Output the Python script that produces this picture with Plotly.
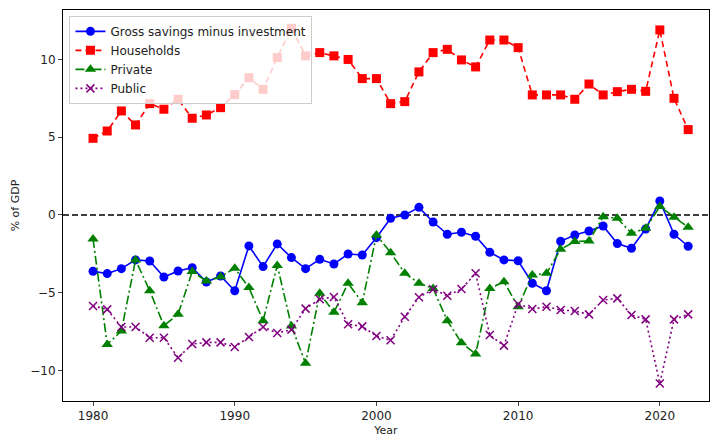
import plotly.graph_objects as go

years = list(range(1980, 2023))

gross = [-3.62, -3.77, -3.45, -2.89, -2.96, -3.99, -3.60, -3.39, -4.31, -3.92,
         -4.87, -1.99, -3.32, -1.86, -2.74, -3.45, -2.85, -3.15, -2.51, -2.57,
         -1.46, -0.21, 0.00, 0.49, -0.45, -1.24, -1.11, -1.37, -2.40, -2.89,
         -2.94, -4.39, -4.87, -1.69, -1.29, -1.03, -0.71, -1.84, -2.14, -0.90,
         0.90, -1.24, -2.01]

households = [4.93, 5.40, 6.69, 5.79, 7.16, 6.80, 7.44, 6.22, 6.43, 6.90,
              7.74, 8.83, 8.08, 10.12, 12.00, 10.23, 10.44, 10.23, 10.00, 8.77,
              8.77, 7.16, 7.29, 9.20, 10.44, 10.65, 9.97, 9.52, 11.25, 11.25,
              10.76, 7.72, 7.72, 7.72, 7.44, 8.42, 7.72, 7.93, 8.08, 7.95,
              11.90, 7.50, 5.49]

private = [-1.54, -8.32, -7.46, -2.89, -4.87, -7.12, -6.39, -3.64, -4.24, -3.97,
           -3.43, -4.67, -6.80, -3.24, -7.14, -9.54, -5.04, -6.26, -4.39, -5.64,
           -1.29, -2.42, -3.75, -4.39, -4.72, -6.80, -8.21, -8.94, -4.72, -4.29,
           -5.90, -3.86, -3.75, -2.21, -1.71, -1.67, -0.11, -0.21, -1.18, -0.86,
           0.54, -0.15, -0.79]

public = [-5.85, -6.07, -7.20, -7.20, -7.89, -7.89, -9.18, -8.30, -8.19, -8.19,
          -8.49, -7.85, -7.20, -7.59, -7.37, -6.02, -5.42, -5.27, -7.03, -7.16,
          -7.78, -8.06, -6.54, -5.29, -4.78, -5.19, -4.76, -3.75, -7.72, -8.40,
          -5.72, -6.05, -5.90, -6.11, -6.17, -6.39, -5.47, -5.36, -6.43, -6.71,
          -10.83, -6.71, -6.39]

x_ticks = [1980, 1990, 2000, 2010, 2020]
y_ticks = [-10, -5, 0, 5, 10]

FONT = "DejaVu Sans"

fig = go.Figure()
fig.add_trace(go.Scatter(x=years, y=gross, name="Gross savings minus investment",
                         mode="lines+markers",
                         line=dict(color="blue", width=1.6),
                         marker=dict(symbol="circle", size=9, color="blue")))
fig.add_trace(go.Scatter(x=years, y=households, name="Households",
                         mode="lines+markers",
                         line=dict(color="red", width=1.6, dash="6px,4px"),
                         marker=dict(symbol="square", size=9, color="red")))
fig.add_trace(go.Scatter(x=years, y=private, name="Private",
                         mode="lines+markers",
                         line=dict(color="green", width=1.6, dash="9px,3px,2px,3px"),
                         marker=dict(symbol="triangle-up", size=10, color="green")))
fig.add_trace(go.Scatter(x=years, y=public, name="Public",
                         mode="lines+markers",
                         line=dict(color="purple", width=1.6, dash="2px,3px"),
                         marker=dict(symbol="x-thin", size=8, color="purple",
                                     line=dict(color="purple", width=1.5))))

fig.add_shape(type="line", xref="paper", yref="y", x0=0, x1=1, y0=0, y1=0,
              line=dict(color="black", width=1.6, dash="6px,3px"), layer="below")

fig.update_layout(
    width=710, height=437,
    margin=dict(l=63, r=1, t=10, b=36),
    paper_bgcolor="white", plot_bgcolor="white",
    font=dict(family=FONT, size=12, color="#222222"),
    showlegend=True,
    legend=dict(x=0.01, y=0.985, xanchor="left", yanchor="top",
                bgcolor="rgba(255,255,255,0.8)", bordercolor="#cccccc", borderwidth=1,
                font=dict(family=FONT, size=12), tracegroupgap=0, itemwidth=30),
    xaxis=dict(range=[1977.88, 2023.47], tickmode="array", tickvals=x_ticks,
               ticktext=[str(v) for v in x_ticks],
               showgrid=False, zeroline=False, showline=True, linecolor="black",
               linewidth=1, mirror=True, ticks="outside", ticklen=4,
               title=dict(text="Year", font=dict(size=11), standoff=3)),
    yaxis=dict(range=[-11.96, 13.18], tickmode="array", tickvals=y_ticks,
               ticktext=["\u221210", "\u22125", "0", "5", "10"],
               showgrid=False, zeroline=False, showline=True, linecolor="black",
               linewidth=1, mirror=True, ticks="outside", ticklen=4,
               title=dict(text="% of GDP", font=dict(size=11), standoff=8)),
)

fig.write_html("out.html")
